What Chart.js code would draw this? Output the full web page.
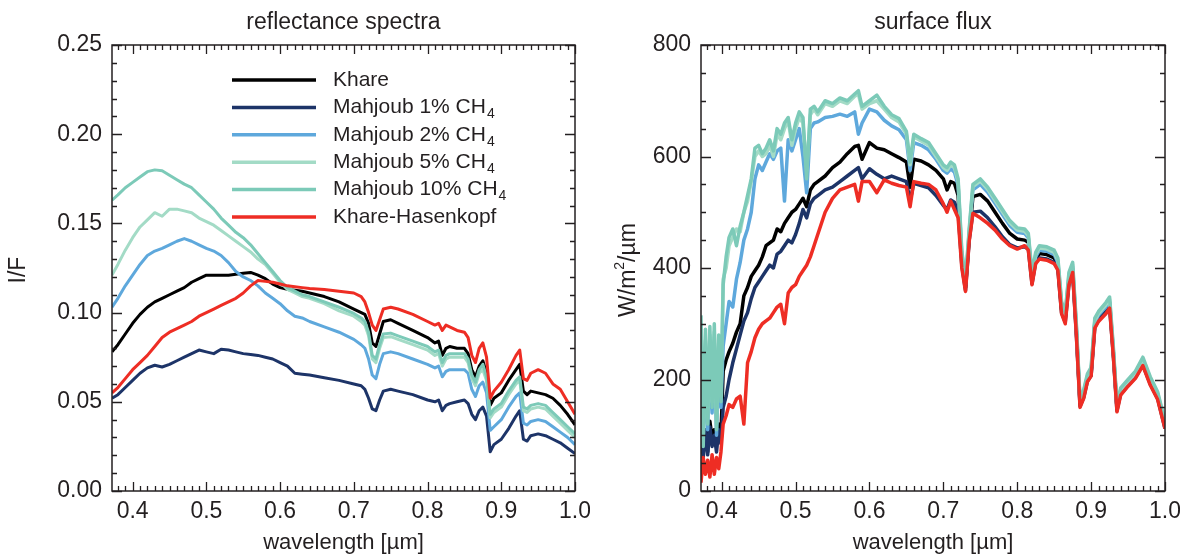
<!DOCTYPE html>
<html lang="en">
<head>
    <meta charset="UTF-8">
    <title>reflectance spectra / surface flux</title>
    <style>
        body { margin: 0; background: #fff; }
        .panel { position: absolute; top: 0; width: 590px; height: 555px; }
        #leftPanel { left: 0; }
        #rightPanel { left: 590px; }
    </style>
</head>
<body>
    <div class="panel" id="leftPanel"><canvas id="reflChart" width="590" height="555"></canvas></div>
    <div class="panel" id="rightPanel"><canvas id="fluxChart" width="590" height="555"></canvas></div>

    <script src="https://cdn.jsdelivr.net/npm/chart.js"></script>
    <script>
        const FONT = '"Liberation Sans", Arial, Helvetica, sans-serif';
        const INK = '#231f20';

        // legend names (subscript part kept separate)
        const seriesNames = ['Khare', 'Mahjoub 1% CH', 'Mahjoub 2% CH', 'Mahjoub 5% CH', 'Mahjoub 10% CH', 'Khare-Hasenkopf'];
        const seriesSubs = ['', '4', '4', '4', '4', ''];
        const seriesColors = ['#000000', '#1d3468', '#5ea8dc', '#a3dbc6', '#7ccab8', '#ee2d24'];

        const xTickValues = [0.4, 0.5, 0.6, 0.7, 0.8, 0.9, 1.0];
        const reflTickValues = [0, 0.05, 0.10, 0.15, 0.20, 0.25];
        const fluxTickValues = [0, 200, 400, 600, 800];

        // ---- reflectance spectra (I/F) ----
        const wlRefl = [
            0.372, 0.38, 0.39, 0.40, 0.41, 0.42, 0.43, 0.44, 0.45, 0.46,
            0.47, 0.48, 0.49, 0.50, 0.51, 0.52, 0.53, 0.54, 0.55, 0.56,
            0.57, 0.58, 0.59, 0.60, 0.61, 0.62, 0.63, 0.64, 0.66, 0.68,
            0.70, 0.71, 0.715, 0.72, 0.725, 0.73, 0.735, 0.74, 0.75, 0.76,
            0.78, 0.80, 0.81, 0.815, 0.82, 0.825, 0.83, 0.84, 0.85, 0.855,
            0.86, 0.865, 0.87, 0.875, 0.88, 0.885, 0.89, 0.90, 0.91, 0.92,
            0.925, 0.93, 0.935, 0.94, 0.95, 0.96, 0.97, 0.98, 0.99, 1.0
        ];
        const reflKhare = [
            0.078, 0.082, 0.088, 0.094, 0.099, 0.103, 0.106, 0.108, 0.110, 0.112,
            0.114, 0.117, 0.119, 0.121, 0.121, 0.121, 0.121, 0.1215, 0.122, 0.1225,
            0.121, 0.119, 0.116, 0.114, 0.113, 0.1125, 0.112, 0.111, 0.109, 0.106,
            0.102, 0.100, 0.099, 0.094, 0.083, 0.081, 0.088, 0.095, 0.096, 0.094,
            0.090, 0.086, 0.083, 0.084, 0.076, 0.080, 0.081, 0.080, 0.080, 0.077,
            0.068, 0.064, 0.070, 0.073, 0.066, 0.048, 0.052, 0.055, 0.062, 0.068,
            0.071, 0.056, 0.054, 0.056, 0.055, 0.054, 0.052, 0.048, 0.043, 0.037
        ];
        const reflM1 = [
            0.052, 0.054, 0.058, 0.062, 0.066, 0.069, 0.0705, 0.0695, 0.071, 0.073,
            0.075, 0.077, 0.079, 0.078, 0.077, 0.0795, 0.079, 0.078, 0.077, 0.0765,
            0.076, 0.075, 0.074, 0.072, 0.070, 0.066, 0.0655, 0.065, 0.0635, 0.062,
            0.060, 0.059, 0.057, 0.052, 0.046, 0.045, 0.051, 0.056, 0.057, 0.056,
            0.054, 0.051, 0.050, 0.051, 0.045, 0.048, 0.049, 0.050, 0.051, 0.049,
            0.043, 0.040, 0.045, 0.047, 0.042, 0.022, 0.026, 0.029, 0.035, 0.042,
            0.045, 0.029, 0.028, 0.031, 0.032, 0.031, 0.029, 0.027, 0.024, 0.021
        ];
        const reflM2 = [
            0.103, 0.108, 0.115, 0.121, 0.127, 0.132, 0.1345, 0.136, 0.138, 0.140,
            0.1415, 0.140, 0.138, 0.136, 0.1345, 0.132, 0.128, 0.123, 0.120, 0.118,
            0.115, 0.111, 0.108, 0.105, 0.101, 0.098, 0.097, 0.095, 0.092, 0.089,
            0.085, 0.082, 0.080, 0.074, 0.065, 0.063, 0.071, 0.077, 0.078, 0.077,
            0.074, 0.071, 0.069, 0.070, 0.064, 0.067, 0.068, 0.068, 0.068, 0.066,
            0.057, 0.053, 0.059, 0.061, 0.055, 0.034, 0.036, 0.040, 0.047, 0.053,
            0.055, 0.038, 0.037, 0.039, 0.040, 0.039, 0.036, 0.033, 0.030, 0.026
        ];
        const reflM5 = [
            0.121, 0.127, 0.135, 0.142, 0.148, 0.152, 0.156, 0.154, 0.158, 0.158,
            0.157, 0.156, 0.153, 0.151, 0.149, 0.146, 0.143, 0.140, 0.137, 0.134,
            0.130, 0.127, 0.122, 0.117, 0.113, 0.111, 0.109, 0.108, 0.105, 0.101,
            0.098, 0.095, 0.093, 0.087, 0.074, 0.072, 0.080, 0.086, 0.0865, 0.085,
            0.082, 0.079, 0.076, 0.077, 0.070, 0.074, 0.075, 0.075, 0.075, 0.072,
            0.063, 0.059, 0.066, 0.068, 0.062, 0.041, 0.044, 0.047, 0.054, 0.060,
            0.062, 0.045, 0.044, 0.046, 0.047, 0.046, 0.042, 0.038, 0.034, 0.030
        ];
        const reflM10 = [
            0.163, 0.166, 0.170, 0.173, 0.176, 0.179, 0.180, 0.1795, 0.177, 0.1745,
            0.172, 0.170, 0.166, 0.162, 0.158, 0.153, 0.149, 0.145, 0.142, 0.138,
            0.133, 0.128, 0.123, 0.118, 0.114, 0.112, 0.110, 0.109, 0.106, 0.103,
            0.0995, 0.097, 0.095, 0.089, 0.076, 0.074, 0.082, 0.088, 0.0885, 0.087,
            0.084, 0.081, 0.078, 0.079, 0.072, 0.076, 0.077, 0.077, 0.077, 0.074,
            0.065, 0.061, 0.068, 0.071, 0.064, 0.043, 0.046, 0.049, 0.056, 0.062,
            0.064, 0.047, 0.046, 0.048, 0.049, 0.048, 0.044, 0.040, 0.036, 0.032
        ];
        const reflKH = [
            0.055, 0.058, 0.063, 0.068, 0.072, 0.076, 0.081, 0.086, 0.089, 0.091,
            0.093, 0.095, 0.098, 0.100, 0.102, 0.104, 0.106, 0.108, 0.111, 0.115,
            0.118, 0.1175, 0.117, 0.116, 0.115, 0.1145, 0.114, 0.1135, 0.113, 0.112,
            0.111, 0.109, 0.106, 0.100, 0.093, 0.090, 0.096, 0.102, 0.103, 0.102,
            0.099, 0.095, 0.093, 0.094, 0.090, 0.093, 0.092, 0.090, 0.089, 0.086,
            0.076, 0.072, 0.080, 0.083, 0.075, 0.052, 0.056, 0.061, 0.068, 0.076,
            0.079, 0.063, 0.062, 0.066, 0.068, 0.066, 0.060, 0.057, 0.050, 0.043
        ];

        // ---- surface flux (W/m2/um) ----
        const wlFlux = [
            0.372, 0.375, 0.378, 0.381, 0.384, 0.387, 0.390, 0.393, 0.396, 0.399,
            0.402, 0.406, 0.410, 0.415, 0.420, 0.425, 0.430, 0.435, 0.440, 0.445,
            0.450, 0.455, 0.460, 0.465, 0.470, 0.475, 0.480, 0.485, 0.490, 0.495,
            0.500, 0.505, 0.510, 0.515, 0.520, 0.525, 0.530, 0.540, 0.550, 0.560,
            0.570, 0.580, 0.585, 0.590, 0.600, 0.610, 0.620, 0.630, 0.640, 0.650,
            0.655, 0.660, 0.670, 0.680, 0.690, 0.700, 0.705, 0.710, 0.715, 0.720,
            0.725, 0.730, 0.735, 0.740, 0.750, 0.760, 0.770, 0.780, 0.790, 0.800,
            0.810, 0.815, 0.820, 0.825, 0.830, 0.840, 0.850, 0.855, 0.860, 0.865,
            0.870, 0.875, 0.880, 0.885, 0.890, 0.895, 0.900, 0.905, 0.910, 0.920,
            0.925, 0.930, 0.935, 0.940, 0.950, 0.960, 0.970, 0.980, 0.990, 1.000
        ];
        const fluxKhare = [
            120, 80, 110, 70, 125, 95, 110, 85, 120, 100,
            215, 235, 250, 265, 285, 300, 350, 365, 385, 395,
            405, 420, 440, 445, 450, 470, 465, 480, 490, 500,
            505, 515, 525, 510, 540, 550, 555, 565, 580, 590,
            605, 618, 620, 595, 625, 615, 612, 605, 598, 590,
            545, 595, 592, 585, 575, 560, 540, 555, 552, 530,
            415, 365, 455, 528, 532, 520, 500, 480, 462, 452,
            450, 446, 378, 416, 426, 424, 418, 404, 326, 310,
            378, 398, 288, 157, 173, 202, 212, 300, 312, 326,
            337, 250, 148, 178, 193, 208, 230, 196, 170, 118
        ];
        const fluxM1 = [
            95, 60, 110, 65, 115, 80, 100, 70, 110, 85,
            150, 170, 200, 230, 255, 280, 305, 320, 345, 365,
            375, 385, 395, 405, 400, 425, 430, 440, 450, 445,
            460, 480, 505, 490, 515, 525, 530, 540, 545, 555,
            565, 575, 580, 560, 578, 568, 560, 565, 560, 555,
            520, 552, 548, 544, 530, 512, 505, 522, 518, 500,
            405, 360, 450, 500, 502, 490, 474, 456, 442, 436,
            438, 434, 372, 410, 418, 416, 410, 398, 320, 303,
            372, 392, 282, 152, 168, 197, 207, 294, 306, 320,
            330, 245, 144, 174, 189, 204, 226, 192, 166, 112
        ];
        const fluxM2 = [
            250, 100, 200, 110, 230, 140, 250, 100, 220, 150,
            260, 300, 340, 330, 380, 410, 450, 470, 500, 560,
            585, 575, 590, 605, 595, 610, 615, 520, 630, 610,
            630, 650, 600, 535, 650, 660, 662, 670, 672, 676,
            672, 680, 640, 660, 685, 680, 665, 655, 648, 630,
            575, 625, 620, 612, 595, 575, 570, 578, 572, 548,
            422, 370, 462, 540, 550, 536, 516, 496, 476, 464,
            462, 454, 384, 420, 432, 430, 424, 410, 332, 314,
            384, 402, 292, 160, 176, 204, 214, 303, 315, 330,
            340, 253, 150, 180, 195, 210, 233, 199, 173, 120
        ];
        const fluxM5 = [
            300, 95, 270, 130, 280, 160, 285, 120, 265, 170,
            380, 400, 440, 455, 470, 465, 500, 520, 555, 600,
            610, 600, 605, 620, 600, 640, 630, 650, 665, 620,
            650, 670, 660, 575, 675, 685, 675, 695, 690, 700,
            695, 708, 712, 685, 695, 700, 685, 670, 662, 640,
            585, 635, 628, 620, 600, 580, 575, 585, 580, 555,
            427, 375, 466, 546, 556, 541, 521, 501, 481, 468,
            466, 458, 388, 424, 436, 434, 428, 414, 336, 317,
            388, 406, 296, 162, 179, 207, 218, 306, 318, 334,
            344, 256, 152, 182, 197, 212, 236, 202, 175, 122
        ];
        const fluxM10 = [
            315, 80, 290, 120, 295, 150, 300, 110, 280, 160,
            370, 420, 455, 470, 440, 475, 500, 530, 560, 615,
            620, 605, 615, 630, 610, 650, 640, 660, 670, 630,
            660, 680, 670, 560, 685, 690, 680, 700, 695, 705,
            700, 712, 718, 690, 700, 710, 690, 675, 668, 645,
            590, 640, 632, 625, 605, 585, 580, 590, 585, 560,
            430, 378, 470, 550, 560, 545, 525, 505, 485, 472,
            470, 462, 392, 428, 440, 438, 432, 418, 340, 320,
            392, 410, 300, 165, 182, 210, 222, 310, 322, 338,
            348, 260, 155, 185, 200, 215, 240, 205, 178, 125
        ];
        const fluxKH = [
            15, 60, 30, 55, 25, 65, 30, 60, 40, 70,
            120, 135, 155, 150, 165, 170, 120, 230, 250, 275,
            290, 300, 305, 310, 320, 330, 335, 300, 355, 365,
            370, 385, 395, 405, 420, 440, 460, 500, 525, 540,
            545, 550, 520, 555, 555, 535, 558, 552, 548, 545,
            510, 555, 552, 550, 540, 515, 500, 520, 505, 490,
            400, 358, 448, 498, 490, 480, 468, 452, 440, 434,
            440, 432, 370, 408, 416, 414, 408, 396, 318, 300,
            370, 392, 280, 150, 166, 196, 206, 292, 304, 318,
            328, 243, 142, 172, 188, 202, 225, 190, 164, 112
        ];

        const reflSeries = [reflKhare, reflM1, reflM2, reflM5, reflM10, reflKH];
        const fluxSeries = [fluxKhare, fluxM1, fluxM2, fluxM5, fluxM10, fluxKH];

        function makeDatasets(wl, series, lw) {
            return series.map((vals, i) => ({
                label: seriesNames[i] + seriesSubs[i],
                data: wl.map((w, j) => ({ x: w, y: vals[j] })),
                borderColor: seriesColors[i],
                backgroundColor: seriesColors[i],
                borderWidth: lw,
                borderJoinStyle: 'round',
                pointRadius: 0,
                tension: 0,
                order: series.length - 1 - i   // last one (red) on top
            }));
        }

        // box round the plot with inward ticks on all four sides (IDL style)
        const framePlugin = {
            id: 'frameTicks',
            afterDatasetsDraw(chart, args, o) {
                const { ctx, chartArea: a } = chart;
                const xs = chart.scales.x, ys = chart.scales.y;
                ctx.save();
                ctx.strokeStyle = INK;
                ctx.lineWidth = 1.5;
                ctx.strokeRect(a.left, a.top, a.right - a.left, a.bottom - a.top);
                ctx.lineWidth = 1.3;
                ctx.beginPath();
                const isMajor = (v, m) => Math.abs(v / m - Math.round(v / m)) < 1e-6;
                const nx = Math.round((o.xEnd - o.xStart) / o.xMinor);
                for (let i = 0; i <= nx; i++) {
                    const v = o.xStart + i * o.xMinor;
                    const len = isMajor(v, o.xMajor) ? 9 : 5;
                    const px = Math.round(xs.getPixelForValue(v)) + 0.5;
                    ctx.moveTo(px, a.bottom); ctx.lineTo(px, a.bottom - len);
                    ctx.moveTo(px, a.top); ctx.lineTo(px, a.top + len);
                }
                const ny = Math.round((ys.max - ys.min) / o.yMinor);
                for (let i = 0; i <= ny; i++) {
                    const v = ys.min + i * o.yMinor;
                    const len = isMajor(v, o.yMajor) ? 10 : 5;
                    const py = Math.round(ys.getPixelForValue(v)) + 0.5;
                    ctx.moveTo(a.left, py); ctx.lineTo(a.left + len, py);
                    ctx.moveTo(a.right, py); ctx.lineTo(a.right - len, py);
                }
                ctx.stroke();
                ctx.restore();
            }
        };

        // titles, axis titles and legend
        const textPlugin = {
            id: 'panelText',
            afterDraw(chart, args, o) {
                const { ctx, chartArea: a } = chart;
                const cx = (a.left + a.right) / 2;
                ctx.save();
                ctx.fillStyle = INK;
                ctx.textAlign = 'center';
                ctx.textBaseline = 'middle';
                ctx.font = `23px ${FONT}`;
                ctx.fillText(o.title, cx, 23);
                ctx.font = `22px ${FONT}`;
                ctx.fillText(o.xTitle, cx, 543);

                // rotated y title, pieces: [text, size, shift]
                ctx.save();
                ctx.translate(o.yTitleX, (a.top + a.bottom) / 2 + 2);
                ctx.rotate(-Math.PI / 2);
                ctx.textAlign = 'left';
                let total = 0;
                o.yTitle.forEach(p => { ctx.font = `${p[1]}px ${FONT}`; total += ctx.measureText(p[0]).width; });
                let x = -total / 2;
                o.yTitle.forEach(p => {
                    ctx.font = `${p[1]}px ${FONT}`;
                    ctx.fillText(p[0], x, p[2]);
                    x += ctx.measureText(p[0]).width;
                });
                ctx.restore();

                if (o.legend) {
                    const x0 = a.left + 120, x1 = a.left + 204, tx = a.left + 221;
                    ctx.textAlign = 'left';
                    seriesNames.forEach((name, i) => {
                        const y = a.top + 35 + i * 27.4;
                        ctx.strokeStyle = seriesColors[i];
                        ctx.lineWidth = 3.5;
                        ctx.beginPath();
                        ctx.moveTo(x0, y); ctx.lineTo(x1, y);
                        ctx.stroke();
                        ctx.font = `21px ${FONT}`;
                        ctx.fillText(name, tx, y);
                        if (seriesSubs[i]) {
                            const w = ctx.measureText(name).width;
                            ctx.font = `14px ${FONT}`;
                            ctx.fillText(seriesSubs[i], tx + w + 1, y + 7);
                        }
                    });
                }
                ctx.restore();
            }
        };

        function makeChart(canvasId, wl, series, lw, yMax, yTicks, yFmt, yAxisWidth, extra) {
            const ctx = document.getElementById(canvasId).getContext('2d');
            return new Chart(ctx, {
                type: 'line',
                data: { datasets: makeDatasets(wl, series, lw) },
                plugins: [framePlugin, textPlugin],
                options: {
                    responsive: false,
                    animation: false,
                    events: [],
                    layout: { padding: { left: 0, top: 45, right: 15, bottom: 0 } },
                    plugins: {
                        legend: { display: false },
                        tooltip: { enabled: false },
                        title: { display: false },
                        frameTicks: extra.frame,
                        panelText: extra.text
                    },
                    scales: {
                        x: {
                            type: 'linear',
                            min: 0.372,
                            max: 1.0,
                            grid: { display: false, drawTicks: false },
                            border: { display: false },
                            afterBuildTicks: s => { s.ticks = xTickValues.map(v => ({ value: v })); },
                            afterFit: s => { s.height = 64; s.paddingLeft = 0; s.paddingRight = 0; },
                            ticks: {
                                color: INK,
                                padding: 7,
                                maxRotation: 0,
                                font: { family: FONT, size: 23 },
                                callback: v => v.toFixed(1)
                            }
                        },
                        y: {
                            min: 0,
                            max: yMax,
                            grid: { display: false, drawTicks: false },
                            border: { display: false },
                            afterBuildTicks: s => { s.ticks = yTicks.map(v => ({ value: v })); },
                            afterFit: s => { s.width = yAxisWidth; },
                            ticks: {
                                color: INK,
                                padding: 10,
                                font: { family: FONT, size: 23 },
                                callback: yFmt
                            }
                        }
                    }
                }
            });
        }

        makeChart('reflChart', wlRefl, reflSeries, 3, 0.25, reflTickValues, v => v.toFixed(2), 112, {
            frame: { xStart: 0.38, xEnd: 1.0, xMinor: 0.01, xMajor: 0.1, yMinor: 0.01, yMajor: 0.05 },
            text: {
                title: 'reflectance spectra',
                xTitle: 'wavelength [\u00b5m]',
                yTitle: [['I/F', 23, 0]],
                yTitleX: 19,
                legend: true
            }
        });

        makeChart('fluxChart', wlFlux, fluxSeries, 3.5, 800, fluxTickValues, v => String(v), 111, {
            frame: { xStart: 0.38, xEnd: 1.0, xMinor: 0.01, xMajor: 0.1, yMinor: 50, yMajor: 200 },
            text: {
                title: 'surface flux',
                xTitle: 'wavelength [\u00b5m]',
                yTitle: [['W/m', 23, 0], ['2', 14, -9], ['/\u00b5m', 23, 0]],
                yTitleX: 39,
                legend: false
            }
        });
    </script>
</body>
</html>
